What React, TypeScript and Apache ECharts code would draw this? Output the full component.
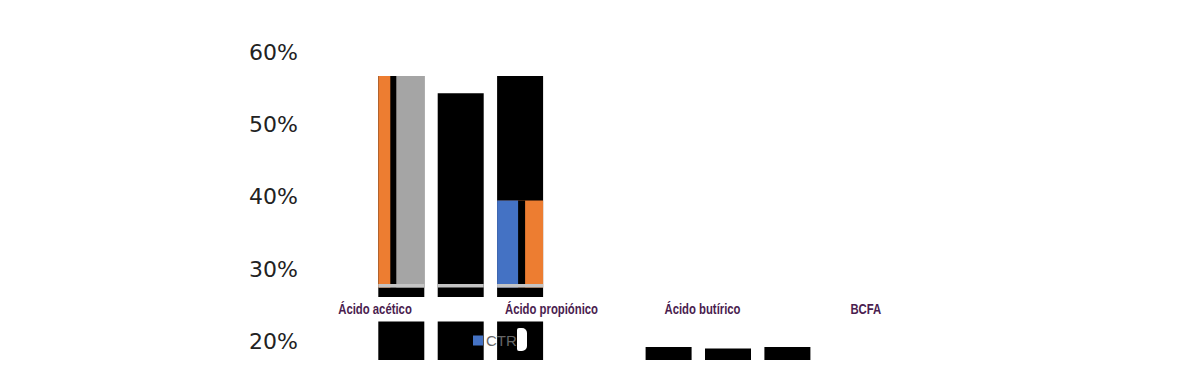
import React, { useEffect, useRef } from "react";
import * as echarts from "echarts";

// ---- data (values in %) ----
const slots = [
  "s0", "acético CTR", "s1", "acético T1", "s2", "acético T2", "s3", "s4",
  "s5", "s6", "butírico CTR", "s7", "butírico T1", "s8", "butírico T2", "s9",
];
const acidLabels = ["Ácido acético", "Ácido propiónico", "Ácido butírico", "BCFA"];
const yTicks = [20, 30, 40, 50, 60];
const legendNames = ["CTR"];

const N = null;
// lower black blocks (from the axis) – acético columns and butírico bars
const blockTop = [N, 22.8, N, 22.8, N, 22.8, N, N, N, N, 19.3, N, 19.1, N, 19.3, N];
// where the upper part of the columns starts
const columnBottom = [N, 26.2, N, 26.2, N, 26.2, N, N, N, N, N, N, N, N, N, N];
// top of the columns
const columnTop = [N, 56.7, N, 54.3, N, 56.7, N, N, N, N, N, N, N, N, N, N];
// light separator line
const lineBottom = [N, 27.5, N, 27.5, N, 27.5, N, N, N, N, N, N, N, N, N, N];
const lineTop = [N, 28.0, N, 28.0, N, 28.0, N, N, N, N, N, N, N, N, N, N];
// coloured stripes
const stripeWideTop = [N, 56.7, N, N, N, 39.5, N, N, N, N, N, N, N, N, N, N];
const stripeMidTop = [N, 56.7, N, N, N, 39.5, N, N, N, N, N, N, N, N, N, N];
const stripeNarrowTop = [N, 56.7, N, N, N, 39.5, N, N, N, N, N, N, N, N, N, N];

// ---- styles ----
const BLACK = "#000000";
const ORANGE = "#ED7D31";
const GRAY = "#A5A5A5";
const BLUE = "#4472C4";
const LIGHT = "#c4c4c4";
const CLEAR = "rgba(0,0,0,0)";
const stripeStart = lineBottom;
const labelX = [375, 551.5, 702.5, 865.8];

type Piece = { lower: (number | null)[] | null; upper: (number | null)[]; color: (i: number) => string };
type Stack = { id: string; width: number; z: number; pieces: Piece[] };

const only = (slot: number, c: string) => (i: number) => (i === slot ? c : CLEAR);

const stacks: Stack[] = [
  { id: "narrowA", width: 12, z: 5, pieces: [{ lower: stripeStart, upper: stripeNarrowTop.map((v, i) => (i === 1 ? v : null)), color: () => ORANGE }] },
  { id: "narrowB", width: 21, z: 5, pieces: [{ lower: stripeStart, upper: stripeNarrowTop.map((v, i) => (i === 5 ? v : null)), color: () => BLUE }] },
  { id: "midA", width: 18, z: 4, pieces: [{ lower: stripeStart, upper: stripeMidTop.map((v, i) => (i === 1 ? v : null)), color: () => BLACK }] },
  { id: "midB", width: 28, z: 4, pieces: [{ lower: stripeStart, upper: stripeMidTop.map((v, i) => (i === 5 ? v : null)), color: () => BLACK }] },
  { id: "wide", width: 46, z: 3, pieces: [{ lower: stripeStart, upper: stripeWideTop, color: (i) => (i === 1 ? GRAY : ORANGE) }] },
  { id: "line", width: 46, z: 6, pieces: [{ lower: lineBottom, upper: lineTop, color: () => LIGHT }] },
  {
    id: "column",
    width: 46,
    z: 2,
    pieces: [
      { lower: null, upper: blockTop, color: () => BLACK },
      { lower: blockTop, upper: columnBottom, color: () => CLEAR },
      { lower: columnBottom, upper: columnTop, color: () => BLACK },
    ],
  },
];

function buildSeries() {
  const out: any[] = [];
  stacks.forEach((st) => {
    let prev: (number | null)[] | null = null;
    st.pieces.forEach((p, pi) => {
      const lower = p.lower;
      // invisible spacer up to the lower edge, when the stack does not start at the axis
      if (pi === 0 && lower) {
        out.push({
          type: "bar", name: `${st.id}-base`, stack: st.id, barWidth: st.width, barGap: "-100%",
          z: st.z, silent: true,
          data: p.upper.map((u, i) => (u == null || lower[i] == null ? null : { value: lower[i], itemStyle: { color: CLEAR } })),
        });
      }
      out.push({
        type: "bar", name: `${st.id}-${pi}`, stack: st.id, barWidth: st.width, barGap: "-100%",
        z: st.z, silent: true,
        data: p.upper.map((u, i) => {
          if (u == null) return null;
          const lo = lower ? lower[i] : 0;
          if (lo == null) return null;
          return { value: +(u - lo).toFixed(2), itemStyle: { color: p.color(i) } };
        }),
      });
      prev = p.upper;
    });
  });
  out.push({ type: "line", name: legendNames[0], data: [], color: BLUE });
  return out;
}

export default function App() {
  const ref = useRef<HTMLDivElement>(null);
  useEffect(() => {
    if (!ref.current) return;
    const chart = echarts.init(ref.current, null, { renderer: "svg" });
    chart.setOption({
      animation: false,
      grid: { left: 356.75, right: 368.05, top: 52, bottom: 32, containLabel: false },
      xAxis: { type: "category", data: slots, show: false },
      yAxis: {
        type: "value",
        min: 17.5,
        max: 60,
        splitLine: { show: false },
        axisLine: { show: false },
        axisTick: { show: false },
        axisLabel: {
          showMinLabel: false,
          margin: 58.75,
          fontFamily: "DejaVu Sans",
          fontSize: 22,
          color: "#222222",
          formatter: (v: number) =>
            yTicks.some((t) => Math.abs(t - v) < 1e-6) ? `${Math.round(v)}%` : "",
        },
      },
      legend: {
        data: [{ name: legendNames[0], itemStyle: { color: BLUE } }],
        left: 473,
        top: 333,
        padding: 0,
        icon: "rect",
        itemWidth: 10,
        itemHeight: 10,
        selectedMode: false,
        textStyle: { color: "#666666", fontSize: 15, fontFamily: "Liberation Sans", padding: [0, 0, 0, -2] },
      },
      graphic: [
        ...acidLabels.map((t, i) => ({
          type: "text",
          x: labelX[i],
          y: 309,
          scaleX: 0.755,
          z: 50,
          style: {
            text: t,
            fill: "#4a1d4f",
            font: "bold 15px 'Liberation Sans', Arial, sans-serif",
            textAlign: "center",
            verticalAlign: "middle",
          },
        })),
        {
          type: "rect",
          z: 60,
          shape: { x: 517, y: 328, width: 10, height: 23, r: [2, 5, 5, 2] },
          style: { fill: "#ffffff" },
        },
      ],
      series: buildSeries(),
    });
    return () => chart.dispose();
  }, []);
  return (
    <div ref={ref} style={{ position: "absolute", left: 0, top: 0, width: 1200, height: 392 }} />
  );
}
